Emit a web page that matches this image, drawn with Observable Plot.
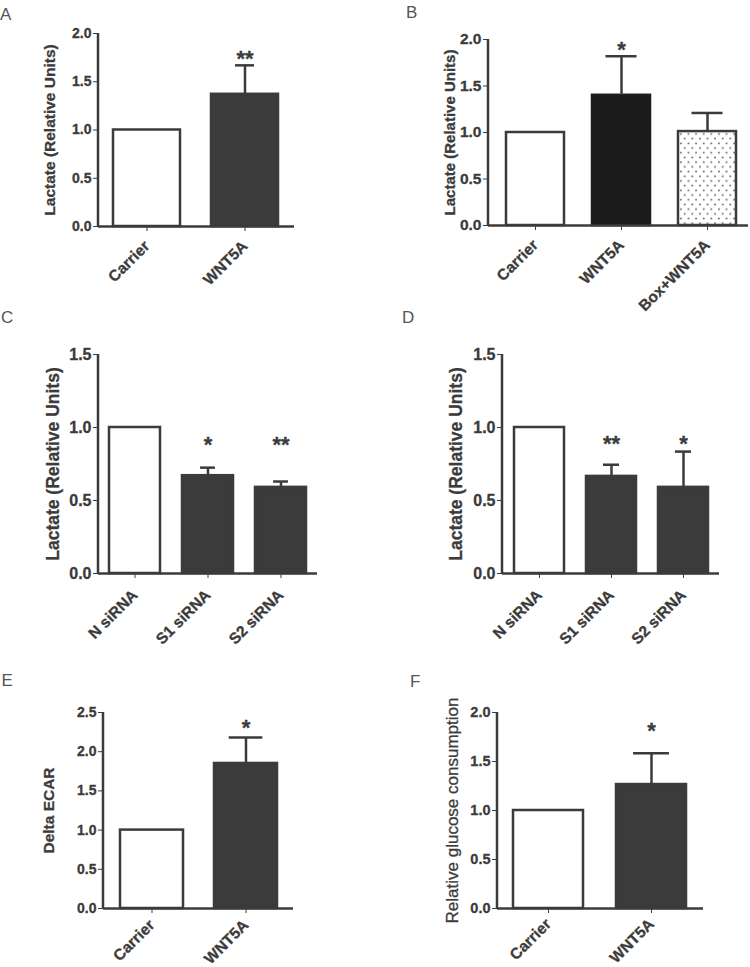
<!DOCTYPE html>
<html>
<head>
<meta charset="utf-8">
<script src="https://cdn.jsdelivr.net/npm/d3@7"></script>
<script src="https://cdn.jsdelivr.net/npm/@observablehq/plot@0.6"></script>
<style>
  body { margin: 0; background: #fff; }
  #fig { position: relative; width: 750px; height: 967px; overflow: hidden; font-family: "Liberation Sans", Arial, sans-serif; }
  .panel { position: absolute; }
  .letter { position: absolute; font-size: 17px; line-height: 17px; height: 17px; color: #555; font-family: "Liberation Sans", Arial, sans-serif; }
  #fig svg text { stroke: #3b3b3b; stroke-width: 0.3px; }
  #fig svg g[aria-label^="x-axis"] text { font-size: 15.5px; }
</style>
</head>
<body>
<svg width="0" height="0" style="position:absolute">
  <defs>
    <pattern id="dots" patternUnits="userSpaceOnUse" width="7.6" height="9.4">
      <rect width="7.6" height="9.4" fill="#fff"/>
      <circle cx="1.9" cy="2.3" r="1" fill="#6a6a6a"/>
      <circle cx="5.7" cy="7" r="1" fill="#6a6a6a"/>
    </pattern>
  </defs>
</svg>
<div id="fig"></div>
<script>
// ---------- data ----------
const catsA = ["Carrier", "WNT5A"];
const meansA = [1.0, 1.37];
const errsA = [0, 0.30];
const sigsA = ["", "**"];
const sigYA = [null, 1.79];

const catsB = ["Carrier", "WNT5A", "Box+WNT5A"];
const meansB = [1.0, 1.40, 1.01];
const errsB = [0, 0.42, 0.20];
const sigsB = ["", "*", ""];
const sigYB = [null, 1.946, null];

const catsC = ["N siRNA", "S1 siRNA", "S2 siRNA"];
const meansC = [1.0, 0.67, 0.59];
const errsC = [0, 0.055, 0.04];
const sigsC = ["", "*", "**"];
const sigYC = [null, 0.916, 0.916];

const catsD = ["N siRNA", "S1 siRNA", "S2 siRNA"];
const meansD = [1.0, 0.665, 0.59];
const errsD = [0, 0.08, 0.245];
const sigsD = ["", "**", "*"];
const sigYD = [null, 0.92, 0.92];

const catsE = ["Carrier", "WNT5A"];
const meansE = [1.0, 1.85];
const errsE = [0, 0.33];
const sigsE = ["", "*"];
const sigYE = [null, 2.37];

const catsF = ["Carrier", "WNT5A"];
const meansF = [1.0, 1.265];
const errsF = [0, 0.32];
const sigsF = ["", "*"];
const sigYF = [null, 1.865];

const ticks20 = [0, 0.5, 1.0, 1.5, 2.0];
const ticks15 = [0, 0.5, 1.0, 1.5];
const ticks25 = [0, 0.5, 1.0, 1.5, 2.0, 2.5];

const labelLactate = "Lactate (Relative Units)";
const labelECAR = "Delta ECAR";
const labelGlucose = "Relative glucose consumption";

// ---------- layout / style ----------
const INK = "#3b3b3b";
const DARK = "#3b3b3b";
const BLACK = "#1c1c1c";

const panels = [
  {letter: "A", lx: 0, ly: 5.6, cats: catsA, means: meansA, errs: errsA, sigs: sigsA, sigYs: sigYA,
   left: 0, top: 0, w: 375, h: 300, axisX: 98, y0: 226, yTop: 33, right: 294, ymax: 2, ticks: ticks20,
   pi: 0.316, po: 0.158, cap: 19, tickFont: 14, xPad: 12, ylabel: labelLactate, labelFont: 15.5, labelWeight: "bold", labelDx: -48,
   fills: ["#fff", DARK], strokes: [INK, DARK]},
  {letter: "B", lx: 406, ly: 4, cats: catsB, means: meansB, errs: errsB, sigs: sigsB, sigYs: sigYB,
   left: 375, top: 0, w: 375, h: 300, axisX: 488, y0: 225, yTop: 39, right: 748, ymax: 2, ticks: ticks20,
   pi: 0.33, po: 0.168, align: 0.585, cap: 31, tickFont: 15.5, xPad: 12, ylabel: labelLactate, labelFont: 15, labelWeight: "bold", labelDx: -38.5,
   fills: ["#fff", BLACK, "url(#dots)"], strokes: [INK, BLACK, INK]},
  {letter: "C", lx: 1, ly: 308.6, cats: catsC, means: meansC, errs: errsC, sigs: sigsC, sigYs: sigYC,
   left: 0, top: 290, w: 375, h: 330, axisX: 98, y0: 573, yTop: 354, right: 317, ymax: 1.5, ticks: ticks15,
   pi: 0.30, po: 0.15, cap: 15, tickFont: 16, xPad: 14, ylabel: labelLactate, labelFont: 17.5, labelWeight: "bold", labelDx: -45.5,
   fills: ["#fff", DARK, DARK], strokes: [INK, DARK, DARK]},
  {letter: "D", lx: 402, ly: 308.6, cats: catsD, means: meansD, errs: errsD, sigs: sigsD, sigYs: sigYD,
   left: 375, top: 290, w: 375, h: 330, axisX: 502, y0: 573, yTop: 354, right: 719, ymax: 1.5, ticks: ticks15,
   pi: 0.31, po: 0.155, cap: 16, tickFont: 16, xPad: 14, ylabel: labelLactate, labelFont: 17.5, labelWeight: "bold", labelDx: -46,
   fills: ["#fff", DARK, DARK], strokes: [INK, DARK, DARK]},
  {letter: "E", lx: 1.5, ly: 671.6, cats: catsE, means: meansE, errs: errsE, sigs: sigsE, sigYs: sigYE,
   left: 0, top: 630, w: 375, h: 337, axisX: 103, y0: 908, yTop: 712, right: 293, ymax: 2.5, ticks: ticks25,
   pi: 0.333, po: 0.167, cap: 34, tickFont: 14, xPad: 9, ylabel: labelECAR, labelFont: 15.5, labelWeight: "bold", labelDx: -54,
   fills: ["#fff", DARK], strokes: [INK, DARK]},
  {letter: "F", lx: 410, ly: 672.6, cats: catsF, means: meansF, errs: errsF, sigs: sigsF, sigYs: sigYF,
   left: 375, top: 630, w: 375, h: 337, axisX: 497, y0: 908, yTop: 712, right: 703, ymax: 2, ticks: ticks20,
   pi: 0.32, po: 0.16, cap: 36, tickFont: 14.5, xPad: 8, ylabel: labelGlucose, labelFont: 17, labelWeight: "normal", labelDx: -45,
   fills: ["#fff", DARK], strokes: [INK, DARK]}
];

const fig = document.getElementById("fig");

function yAxisLine(index, scales, values, dims) {
  const ln = document.createElementNS("http://www.w3.org/2000/svg", "line");
  ln.setAttribute("x1", dims.marginLeft);
  ln.setAttribute("x2", dims.marginLeft);
  ln.setAttribute("y1", dims.marginTop);
  ln.setAttribute("y2", dims.height - dims.marginBottom + 1);
  ln.setAttribute("stroke", INK);
  ln.setAttribute("stroke-width", 2.5);
  return ln;
}

for (const p of panels) {
  const rows = p.cats.map((c, i) => ({cat: c, mean: p.means[i], err: p.errs[i], sig: p.sigs[i], sigY: p.sigYs[i], i}));
  const n = p.cats.length;
  const W = p.right - p.axisX;
  const step = W / (n - p.pi + 2 * p.po);
  const bw = step * (1 - p.pi);
  const inset = Math.max(0, (bw - p.cap) / 2);
  const withErr = rows.filter(d => d.err > 0);
  const withSig = rows.filter(d => d.sig);

  const plot = Plot.plot({
    width: p.w,
    height: p.h,
    marginLeft: p.axisX - p.left,
    marginRight: p.left + p.w - p.right,
    marginTop: p.yTop - p.top,
    marginBottom: p.top + p.h - p.y0,
    style: {
      fontFamily: "'Liberation Sans', Arial, sans-serif",
      fontSize: p.tickFont + "px",
      fontWeight: "bold",
      color: INK,
      background: "transparent",
      overflow: "visible"
    },
    x: {domain: p.cats, paddingInner: p.pi, paddingOuter: p.po, align: p.align ?? 0.5,
        tickSize: 5, tickPadding: p.xPad, tickRotate: -45, label: null},
    y: {domain: [0, p.ymax], ticks: p.ticks, tickFormat: d3.format(".1f"), tickSize: 5, tickPadding: 2, label: null},
    color: {type: "identity"},
    marks: [
      Plot.barY(rows, {x: "cat", y: "mean", fill: d => p.fills[d.i], stroke: d => p.strokes[d.i], strokeWidth: 2.5}),
      Plot.ruleX(withErr, {x: "cat", y1: "mean", y2: d => d.mean + d.err, stroke: INK, strokeWidth: 2.5}),
      Plot.tickY(withErr, {x: "cat", y: d => d.mean + d.err, insetLeft: inset, insetRight: inset, stroke: INK, strokeWidth: 2.5}),
      Plot.text(withSig, {x: "cat", y: "sigY", text: "sig", fontSize: 22, fontWeight: "bold", dy: 5, fill: INK}),
      Plot.ruleY([0], {stroke: INK, strokeWidth: 2.5}),
      yAxisLine,
      Plot.text([p.ylabel], {frameAnchor: "left", textAnchor: "middle", rotate: -90, dx: p.labelDx, text: d => d,
        fontSize: p.labelFont, fontWeight: p.labelWeight, fill: INK})
    ]
  });
  plot.classList.add("panel");
  plot.style.left = p.left + "px";
  plot.style.top = p.top + "px";
  plot.style.position = "absolute";
  fig.appendChild(plot);

  const letter = document.createElement("div");
  letter.className = "letter";
  letter.textContent = p.letter;
  letter.style.left = p.lx + "px";
  letter.style.top = p.ly + "px";
  fig.appendChild(letter);
}
</script>
</body>
</html>
